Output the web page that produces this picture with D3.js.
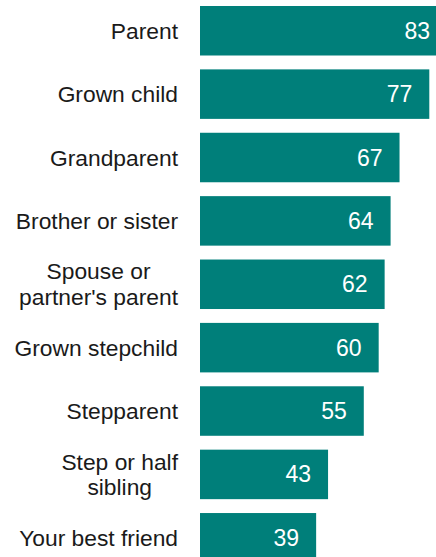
<!DOCTYPE html>
<html>
<head>
<meta charset="utf-8">
<script src="https://cdn.jsdelivr.net/npm/d3@7"></script>
<style>
  html, body { margin: 0; padding: 0; background: #fff; }
  svg { display: block; }
  text { font-family: "Liberation Sans", Arial, sans-serif; }
</style>
</head>
<body>
<svg id="chart" width="436" height="557"></svg>
<script>
// Relatives, each entry is a list of label lines
const categories = [
  ["Parent"],
  ["Grown child"],
  ["Grandparent"],
  ["Brother or sister"],
  ["Spouse or", "partner's parent"],
  ["Grown stepchild"],
  ["Stepparent"],
  ["Step or half", "sibling"],
  ["Your best friend"]
];
const values = [83, 77, 67, 64, 62, 60, 55, 43, 39];

const data = categories.map((lines, i) => ({ key: lines.join(" "), lines, value: values[i] }));

const svg = d3.select("#chart");
const barLeft = 200;
const labelRight = 178;
const fontSize = 22.8;
const lineHeight = 25.7;

const x = d3.scaleLinear().domain([0, 100]).range([barLeft, barLeft + 297.8]);

const step = 63.38;
const padInner = 0.219;
const y0 = 6 - step * padInner / 2;
const y = d3.scaleBand()
  .domain(data.map(d => d.key))
  .range([y0, y0 + step * data.length])
  .paddingInner(padInner)
  .paddingOuter(padInner / 2);

// Bars
svg.append("g")
  .selectAll("rect")
  .data(data)
  .join("rect")
  .attr("x", x(0))
  .attr("y", d => y(d.key))
  .attr("width", d => x(d.value) - x(0))
  .attr("height", y.bandwidth())
  .attr("fill", "#007f7a");

// Value labels inside the bar ends
svg.append("g")
  .selectAll("text")
  .data(data)
  .join("text")
  .attr("x", d => x(d.value) - 17)
  .attr("y", d => y(d.key) + y.bandwidth() / 2 + 8)
  .attr("text-anchor", "end")
  .attr("fill", "#ffffff")
  .attr("font-size", 23)
  .text(d => d.value);

// Category labels: block right-aligned, lines centred within the block
const labels = svg.append("g")
  .selectAll("g")
  .data(data)
  .join("g");

labels.each(function (d) {
  const g = d3.select(this);
  const cy = y(d.key) + y.bandwidth() / 2;
  const n = d.lines.length;
  const texts = d.lines.map((line, i) =>
    g.append("text")
      .attr("y", cy + 8 + (i - (n - 1) / 2) * lineHeight)
      .attr("fill", "#1a1a1a")
      .attr("font-size", fontSize)
      .text(line)
  );
  const widths = texts.map(t => t.node().getComputedTextLength());
  const maxW = d3.max(widths);
  if (n === 1) {
    texts[0].attr("x", labelRight).attr("text-anchor", "end");
  } else {
    texts.forEach(t => t.attr("x", labelRight - maxW / 2).attr("text-anchor", "middle"));
  }
});
</script>
</body>
</html>
